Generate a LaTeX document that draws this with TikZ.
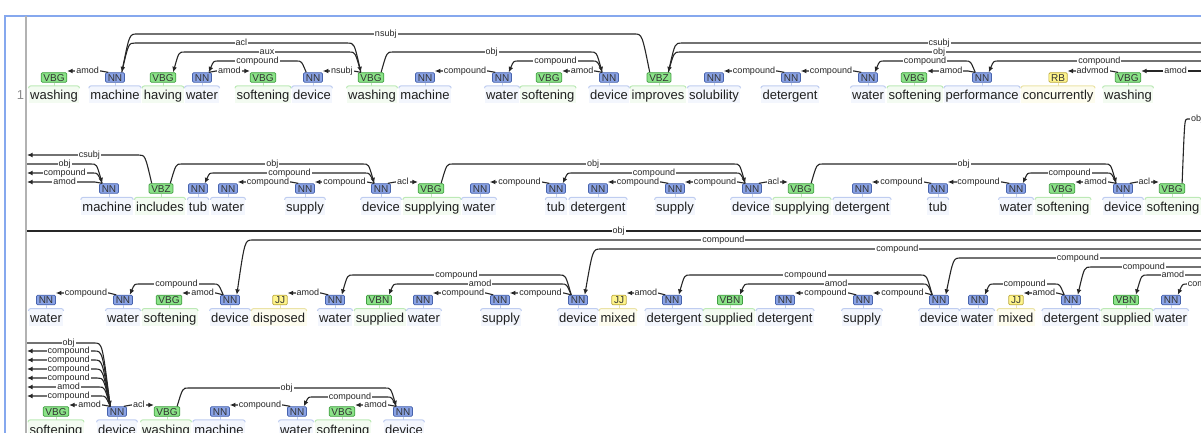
\documentclass[tikz,border=0pt]{standalone}
\usepackage{fontspec}
\setmainfont{Liberation Sans}
\usetikzlibrary{arrows.meta,calc}

\definecolor{nnF}{HTML}{8AA3E6}
\definecolor{nnD}{HTML}{4763AC}
\definecolor{nnL}{HTML}{BFCDF0}
\definecolor{nnB}{HTML}{F3F6FD}
\definecolor{vbF}{HTML}{8BE388}
\definecolor{vbD}{HTML}{429E42}
\definecolor{vbL}{HTML}{BCE9B6}
\definecolor{vbB}{HTML}{F3FBF1}
\definecolor{jjF}{HTML}{FFF58C}
\definecolor{jjD}{HTML}{BBA93F}
\definecolor{jjL}{HTML}{EBE3A6}
\definecolor{jjB}{HTML}{FDFCEE}
\definecolor{frameblue}{HTML}{86A8EE}
\definecolor{arcc}{HTML}{262626}

\def\slmax{16}
\def\tyA{77.5}\def\wyA{100}
\def\tyB{188.5}\def\wyB{211.5}
\def\tyC{300}\def\wyC{322.7}
\def\tyD{411.5}\def\wyD{434}

\tikzset{
  x=1pt, y=-1pt,
  word/.style={anchor=base, inner xsep=1.5pt, inner ysep=0pt, text height=14pt, text depth=3pt,
    font=\fontsize{13}{15}\selectfont, text=black!88},
  tag/.style={rounded corners=1.2pt, inner xsep=2.2pt, inner ysep=1.2pt, text height=7.2pt,
    text depth=0pt, font=\fontsize{10}{10}\selectfont, line width=0.7pt, text=black!80},
  lbl/.style={fill=white, inner xsep=1pt, inner ysep=0.3pt, text height=6.5pt, text depth=1.8pt,
    font=\fontsize{9}{9}\selectfont, text=black!85},
  dep/.style={draw=arcc, line width=1.1pt, -{Latex[length=5.5pt,width=4.8pt]}},
  flat/.style={draw=arcc, line width=1.1pt},
  arcL/.style 2 args={to path={let \p1=(\tikztostart),\p2=(\tikztotarget),
     \n1={min(\slmax,7+0.22*(abs(\y1)-#1))} in
     .. controls ({\x1-0.5*\n1},-#1pt) .. ({\x1-\n1},-#1pt) -- ({\x2+\n1},-#1pt)
     .. controls ({\x2+0.5*\n1},-#1pt) .. (\p2)
     node[lbl] at ({(\x1+\x2)/2},-#1pt) {#2}}},
  arcR/.style 2 args={to path={let \p1=(\tikztostart),\p2=(\tikztotarget),
     \n1={min(\slmax,7+0.22*(abs(\y1)-#1))} in
     .. controls ({\x1+0.5*\n1},-#1pt) .. ({\x1+\n1},-#1pt) -- ({\x2-\n1},-#1pt)
     .. controls ({\x2-0.5*\n1},-#1pt) .. (\p2)
     node[lbl] at ({(\x1+\x2)/2},-#1pt) {#2}}},
  lowLs/.style 2 args={to path={let \p1=(\tikztostart),\p2=(\tikztotarget),
     \n1={min(\slmax,7+0.22*(abs(\y1)-#1))} in
     .. controls ({\x1-0.5*\n1},-#1pt) .. ({\x1-\n1},-#1pt) -- (\x2,-#1pt)
     node[lbl] at ({(\x1+\x2)/2},-#1pt) {#2}}},
  lowRs/.style 2 args={to path={let \p1=(\tikztostart),\p2=(\tikztotarget),
     \n1={min(\slmax,7+0.22*(abs(\y1)-#1))} in
     .. controls ({\x1+0.5*\n1},-#1pt) .. ({\x1+\n1},-#1pt) -- (\x2,-#1pt)
     node[lbl] at ({(\x1+\x2)/2},-#1pt) {#2}}},
  eOutL/.style 2 args={to path={let \p1=(\tikztostart),\p2=(\tikztotarget),
     \n1={min(\slmax,7+0.22*(abs(\y1)-#1))} in
     .. controls ({\x1-0.5*\n1},-#1pt) .. ({\x1-\n1},-#1pt) -- (\x2,-#1pt)
     node[lbl] at ({(\x1+\x2)/2},-#1pt) {#2}}},
  eOutR/.style 2 args={to path={let \p1=(\tikztostart),\p2=(\tikztotarget),
     \n1={min(\slmax,7+0.22*(abs(\y1)-#1))} in
     .. controls ({\x1+0.5*\n1},-#1pt) .. ({\x1+\n1},-#1pt) -- (\x2,-#1pt)
     node[lbl] at ({(\x1+\x2)/2},-#1pt) {#2}}},
  eInL/.style 2 args={to path={let \p1=(\tikztostart),\p2=(\tikztotarget),
     \n1={min(\slmax,7+0.22*(abs(\y2)-#1))} in
     -- ({\x2-\n1},-#1pt) .. controls ({\x2-0.5*\n1},-#1pt) .. (\p2)
     node[lbl] at ({(\x1+\x2)/2},-#1pt) {#2}}},
  eInR/.style 2 args={to path={let \p1=(\tikztostart),\p2=(\tikztotarget),
     \n1={min(\slmax,7+0.22*(abs(\y2)-#1))} in
     -- ({\x2+\n1},-#1pt) .. controls ({\x2+0.5*\n1},-#1pt) .. (\p2)
     node[lbl] at ({(\x1+\x2)/2},-#1pt) {#2}}},
  eLowIn/.style 2 args={to path={let \p1=(\tikztostart),\p2=(\tikztotarget) in
     -- (\x2,-#1pt)
     node[lbl] at ({(\x1+\x2)/2},-#1pt) {#2}}},
}

% token: id, tag x, word x, tag y, word baseline y, word, tag, class
\newcommand\tk[8]{%
  \node[tag,fill=#8F,draw=#8D] (t#1) at (#2,#4) {#7};
  \node[word,fill=#8B] (w#1) at (#3,#5) {#6};
  \draw[#8L,line width=1pt] ([yshift=-2.5pt]w#1.north west) to[out=90,in=180]
     ([xshift=2.5pt]w#1.north west) -- ([xshift=-2.5pt]w#1.north east) to[out=0,in=90]
     ([yshift=-2.5pt]w#1.north east);
  \draw[#8L,line width=1pt] (t#1.south) -- (t#1.south |- w#1.north);
}
% head right -> dependent left
\newcommand\depl[4]{\draw[dep] ([xshift=3pt]t#1.north west) to[arcL={#3}{#4}] ([xshift=-3pt]t#2.north east);}
% head left -> dependent right
\newcommand\depr[4]{\draw[dep] ([xshift=-3pt]t#1.north east) to[arcR={#3}{#4}] ([xshift=3pt]t#2.north west);}
\newcommand\lowl[4]{\draw[dep] ([xshift=3pt]t#1.north west) to[lowLs={#3}{#4}] (t#2.north east);}
\newcommand\lowr[4]{\draw[dep] ([xshift=-3pt]t#1.north east) to[lowRs={#3}{#4}] (t#2.north west);}

\begin{document}
\begin{tikzpicture}
\useasboundingbox (0,0) rectangle (1201,433);
\clip (0,0) rectangle (1201,433);

% frame and gutter
\draw[frameblue, line width=1.2pt] (5,433) -- (5,16) -- (1201,16);
\draw[black!30, line width=2pt] (26,16) -- (26,433);
\node[anchor=base, font=\fontsize{13}{15}\selectfont, text=black!45] (rownum) at (20.5,100) {1};

\coordinate (LE) at (27,0);
\coordinate (RE) at (1210,0);
\coordinate (RF) at (1240,0);
\coordinate (RG) at (1212,0);

% ---------- row 1 ----------
\tk{1}{54}{54}{\tyA}{\wyA}{washing}{VBG}{vb}
\tk{2}{115}{115}{\tyA}{\wyA}{machine}{NN}{nn}
\tk{3}{163}{163}{\tyA}{\wyA}{having}{VBG}{vb}
\tk{4}{202}{202}{\tyA}{\wyA}{water}{NN}{nn}
\tk{5}{263}{263}{\tyA}{\wyA}{softening}{VBG}{vb}
\tk{6}{313}{312}{\tyA}{\wyA}{device}{NN}{nn}
\tk{7}{371}{372}{\tyA}{\wyA}{washing}{VBG}{vb}
\tk{8}{425}{425}{\tyA}{\wyA}{machine}{NN}{nn}
\tk{9}{502}{502}{\tyA}{\wyA}{water}{NN}{nn}
\tk{10}{549}{548}{\tyA}{\wyA}{softening}{VBG}{vb}
\tk{11}{609}{609}{\tyA}{\wyA}{device}{NN}{nn}
\tk{12}{659}{658}{\tyA}{\wyA}{improves}{VBZ}{vb}
\tk{13}{714}{714}{\tyA}{\wyA}{solubility}{NN}{nn}
\tk{14}{791}{790}{\tyA}{\wyA}{detergent}{NN}{nn}
\tk{15}{868}{868}{\tyA}{\wyA}{water}{NN}{nn}
\tk{16}{914}{915}{\tyA}{\wyA}{softening}{VBG}{vb}
\tk{17}{982}{982}{\tyA}{\wyA}{performance}{NN}{nn}
\tk{18}{1058}{1058}{\tyA}{\wyA}{concurrently}{RB}{jj}
\tk{19}{1128}{1128}{\tyA}{\wyA}{washing}{VBG}{vb}

% ---------- row 2 ----------
\tk{20}{109}{107}{\tyB}{\wyB}{machine}{NN}{nn}
\tk{21}{161}{160}{\tyB}{\wyB}{includes}{VBZ}{vb}
\tk{22}{198}{198}{\tyB}{\wyB}{tub}{NN}{nn}
\tk{23}{228}{228}{\tyB}{\wyB}{water}{NN}{nn}
\tk{24}{305}{305}{\tyB}{\wyB}{supply}{NN}{nn}
\tk{25}{381}{381}{\tyB}{\wyB}{device}{NN}{nn}
\tk{26}{431}{432}{\tyB}{\wyB}{supplying}{VBG}{vb}
\tk{27}{480}{479}{\tyB}{\wyB}{water}{NN}{nn}
\tk{28}{556}{556}{\tyB}{\wyB}{tub}{NN}{nn}
\tk{29}{598}{598}{\tyB}{\wyB}{detergent}{NN}{nn}
\tk{30}{675}{675}{\tyB}{\wyB}{supply}{NN}{nn}
\tk{31}{752}{751}{\tyB}{\wyB}{device}{NN}{nn}
\tk{32}{801}{802}{\tyB}{\wyB}{supplying}{VBG}{vb}
\tk{33}{862}{862}{\tyB}{\wyB}{detergent}{NN}{nn}
\tk{34}{938}{938}{\tyB}{\wyB}{tub}{NN}{nn}
\tk{35}{1016}{1016}{\tyB}{\wyB}{water}{NN}{nn}
\tk{36}{1062}{1063}{\tyB}{\wyB}{softening}{VBG}{vb}
\tk{37}{1123}{1123}{\tyB}{\wyB}{device}{NN}{nn}
\tk{38}{1172}{1173}{\tyB}{\wyB}{softening}{VBG}{vb}

% ---------- row 3 ----------
\tk{39}{46}{46}{\tyC}{\wyC}{water}{NN}{nn}
\tk{40}{123}{123}{\tyC}{\wyC}{water}{NN}{nn}
\tk{41}{169}{170}{\tyC}{\wyC}{softening}{VBG}{vb}
\tk{42}{230}{230}{\tyC}{\wyC}{device}{NN}{nn}
\tk{43}{280}{279}{\tyC}{\wyC}{disposed}{JJ}{jj}
\tk{44}{335}{335}{\tyC}{\wyC}{water}{NN}{nn}
\tk{45}{379}{380}{\tyC}{\wyC}{supplied}{VBN}{vb}
\tk{46}{423}{424}{\tyC}{\wyC}{water}{NN}{nn}
\tk{47}{500}{501}{\tyC}{\wyC}{supply}{NN}{nn}
\tk{48}{578}{578}{\tyC}{\wyC}{device}{NN}{nn}
\tk{49}{619}{618}{\tyC}{\wyC}{mixed}{JJ}{jj}
\tk{50}{672}{674}{\tyC}{\wyC}{detergent}{NN}{nn}
\tk{51}{730}{729}{\tyC}{\wyC}{supplied}{VBN}{vb}
\tk{52}{785}{785}{\tyC}{\wyC}{detergent}{NN}{nn}
\tk{53}{863}{862}{\tyC}{\wyC}{supply}{NN}{nn}
\tk{54}{939}{939}{\tyC}{\wyC}{device}{NN}{nn}
\tk{55}{978}{977}{\tyC}{\wyC}{water}{NN}{nn}
\tk{56}{1016}{1016}{\tyC}{\wyC}{mixed}{JJ}{jj}
\tk{57}{1071}{1071}{\tyC}{\wyC}{detergent}{NN}{nn}
\tk{58}{1126}{1127}{\tyC}{\wyC}{supplied}{VBN}{vb}
\tk{59}{1171}{1171}{\tyC}{\wyC}{water}{NN}{nn}

% ---------- row 4 ----------
\tk{60}{56}{56}{\tyD}{\wyD}{softening}{VBG}{vb}
\tk{61}{117}{117}{\tyD}{\wyD}{device}{NN}{nn}
\tk{62}{167}{166}{\tyD}{\wyD}{washing}{VBG}{vb}
\tk{63}{220}{219}{\tyD}{\wyD}{machine}{NN}{nn}
\tk{64}{297}{296}{\tyD}{\wyD}{water}{NN}{nn}
\tk{65}{342}{343}{\tyD}{\wyD}{softening}{VBG}{vb}
\tk{66}{403}{404}{\tyD}{\wyD}{device}{NN}{nn}

% ---------- arcs row 1 ----------
\lowl{2}{1}{71}{amod}
\depl{12}{2}{34}{nsubj}
\depr{2}{7}{43}{acl}
\depl{7}{3}{52}{aux}
\depl{6}{4}{61}{compound}
\lowr{4}{5}{71}{amod}
\lowl{7}{6}{71}{nsubj}
\depr{7}{11}{52}{obj}
\lowl{9}{8}{71}{compound}
\depl{11}{9}{61}{compound}
\lowl{11}{10}{71}{amod}
\lowl{14}{13}{71}{compound}
\lowl{15}{14}{71}{compound}
\depl{17}{15}{61}{compound}
\lowl{17}{16}{71}{amod}
\lowl{19}{18}{71}{advmod}
\draw[dep] (RE |- 0,43) to[eInR={43}{csubj}] ([xshift=-3pt]t12.north east);
\draw[flat] ([xshift=-3pt]t12.north east) to[eOutR={52}{obj}] (RE |- 0,52);
\draw[dep] (RE |- 0,61) to[eInR={61}{compound}] ([xshift=-3pt]t17.north east);
\draw[dep] (RE |- 0,71) to[eLowIn={71}{amod}] (t19.north east);

% ---------- arcs row 2 ----------
\draw[dep] ([xshift=3pt]t21.north west) to[eOutL={155}{csubj}] (LE |- 0,155);
\draw[dep] (LE |- 0,164) to[eInL={164}{obj}] ([xshift=3pt]t20.north west);
\draw[dep] ([xshift=3pt]t20.north west) to[eOutL={173}{compound}] (LE |- 0,173);
\draw[dep] ([xshift=3pt]t20.north west) to[eOutL={182}{amod}] (LE |- 0,182);
\depr{21}{25}{164}{obj}
\depl{25}{22}{173}{compound}
\lowl{24}{23}{182}{compound}
\lowl{25}{24}{182}{compound}
\lowr{25}{26}{182}{acl}
\depr{26}{31}{164}{obj}
\depl{31}{28}{173}{compound}
\lowl{28}{27}{182}{compound}
\lowl{30}{29}{182}{compound}
\lowl{31}{30}{182}{compound}
\lowr{31}{32}{182}{acl}
\depr{32}{37}{164}{obj}
\lowl{34}{33}{182}{compound}
\lowl{35}{34}{182}{compound}
\depl{37}{35}{173}{compound}
\lowl{37}{36}{182}{amod}
\lowr{37}{38}{182}{acl}
{\def\slmax{5}\draw[flat] ([xshift=-3pt]t38.north east) to[eOutR={119}{obj}] (RG |- 0,119);}

% ---------- arcs row 3 ----------
\draw[flat] (LE |- 0,231) -- (RE |- 0,231) node[lbl,midway] {obj};
\draw[dep] (RE |- 0,240) to[eInR={240}{compound}] ([xshift=-3pt]t42.north east);
\draw[dep] (RE |- 0,249) to[eInR={249}{compound}] ([xshift=-3pt]t48.north east);
\draw[dep] (RE |- 0,258) to[eInR={258}{compound}] ([xshift=-3pt]t54.north east);
\draw[dep] (RE |- 0,267) to[eInR={267}{compound}] ([xshift=-3pt]t57.north east);
\draw[dep] (RE |- 0,275) to[eInR={275}{amod}] ([xshift=-3pt]t58.north east);
\draw[dep] (RF |- 0,284) to[eInR={284}{compound}] ([xshift=-3pt]t59.north east);
\lowl{40}{39}{293}{compound}
\depl{42}{40}{284}{compound}
\lowl{42}{41}{293}{amod}
\lowl{44}{43}{293}{amod}
\depl{48}{44}{275}{compound}
\depl{48}{45}{284}{amod}
\lowl{47}{46}{293}{compound}
\lowl{48}{47}{293}{compound}
\lowl{50}{49}{293}{amod}
\depl{54}{50}{275}{compound}
\depl{54}{51}{284}{amod}
\lowl{53}{52}{293}{compound}
\lowl{54}{53}{293}{compound}
\depl{57}{55}{284}{compound}
\lowl{57}{56}{293}{amod}

% ---------- arcs row 4 ----------
\draw[dep] (LE |- 0,343) to[eInL={343}{obj}] ([xshift=3pt]t61.north west);
\draw[dep] ([xshift=3pt]t61.north west) to[eOutL={351}{compound}] (LE |- 0,351);
\draw[dep] ([xshift=3pt]t61.north west) to[eOutL={360}{compound}] (LE |- 0,360);
\draw[dep] ([xshift=3pt]t61.north west) to[eOutL={369}{compound}] (LE |- 0,369);
\draw[dep] ([xshift=3pt]t61.north west) to[eOutL={378}{compound}] (LE |- 0,378);
\draw[dep] ([xshift=3pt]t61.north west) to[eOutL={387}{amod}] (LE |- 0,387);
\draw[dep] ([xshift=3pt]t61.north west) to[eOutL={396}{compound}] (LE |- 0,396);
\lowl{61}{60}{405}{amod}
\lowr{61}{62}{405}{acl}
\depr{62}{66}{388}{obj}
\lowl{64}{63}{405}{compound}
\depl{66}{64}{397}{compound}
\lowl{66}{65}{405}{amod}
\end{tikzpicture}
\end{document}
